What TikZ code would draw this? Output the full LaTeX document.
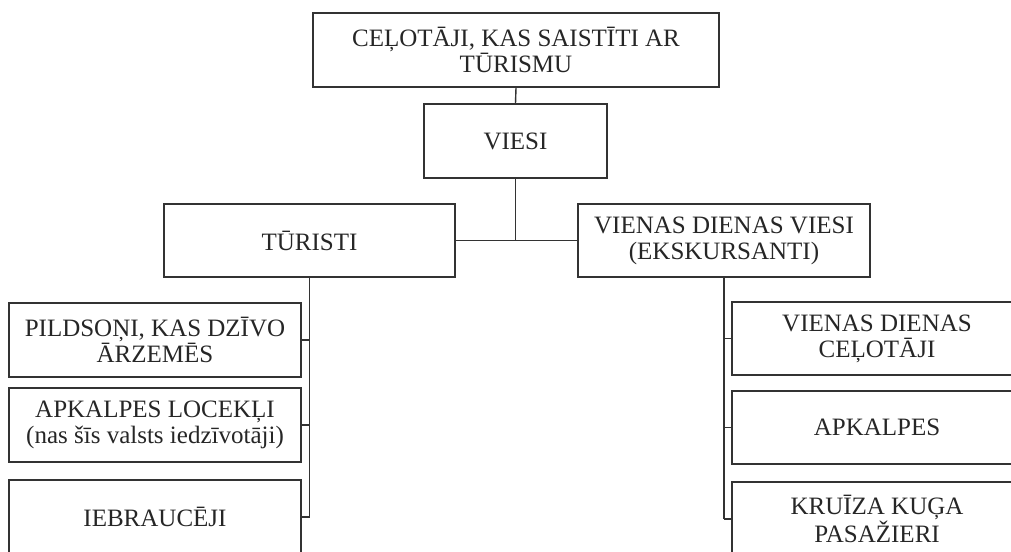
\documentclass[tikz,border=0pt]{standalone}
\usepackage{fontspec}
\setmainfont{Liberation Serif}
\begin{document}
\begin{tikzpicture}[x=1pt,y=-1pt,
  box/.style={draw=black!80, line width=1.5pt, align=center, inner sep=0pt,
    font=\fontsize{25}{26}\selectfont, text=black!85},
  conn/.style={draw=black!80, line width=1.4pt}]
\useasboundingbox (0,0) rectangle (1011,551);
\clip (0,0) rectangle (1011,551);
\node[box, minimum width=406pt, minimum height=74pt] (top) at (516,50) {CEĻOTĀJI, KAS SAISTĪTI AR\\TŪRISMU};
\node[box, minimum width=183pt, minimum height=74pt] (viesi) at (515.5,141) {VIESI};
\node[box, minimum width=291pt, minimum height=73pt] (tur) at (309.5,240.5) {TŪRISTI};
\node[box, minimum width=292pt, minimum height=73pt] (vien) at (724,240.5) {VIENAS DIENAS VIESI\\(EKSKURSANTI)};
\node[box, minimum width=292pt, minimum height=74pt] (l1) at (155,340) {PILDSOŅI, KAS DZĪVO\\ĀRZEMĒS};
\node[box, minimum width=292pt, minimum height=74pt] (l2) at (155,425) {APKALPES LOCEKĻI\\(nas šīs valsts iedzīvotāji)};
\node[box, minimum width=292pt, minimum height=74pt] (l3) at (155,517) {IEBRAUCĒJI};
\node[box, minimum width=290pt, minimum height=73pt] (r1) at (877,338.5) {VIENAS DIENAS\\CEĻOTĀJI};
\node[box, minimum width=290pt, minimum height=73pt] (r2) at (877,427.5) {APKALPES};
\node[box, minimum width=290pt, minimum height=74pt] (r3) at (877,519) {KRUĪZA KUĢA\\PASAŽIERI};
\draw[conn] (top.south) -- (viesi.north);
\draw[conn] (viesi.south) -- (viesi.south |- tur.east);
\draw[conn] (tur.east) -- (vien.west);
\draw[conn] (tur.south) -- (tur.south |- l3.east);
\draw[conn] (l1.east) -- (tur.south |- l1.east);
\draw[conn] (l2.east) -- (tur.south |- l2.east);
\draw[conn] (l3.east) -- (tur.south |- l3.east);
\draw[conn] (vien.south) -- (vien.south |- r3.west);
\draw[conn] (r1.west) -- (vien.south |- r1.west);
\draw[conn] (r2.west) -- (vien.south |- r2.west);
\draw[conn] (r3.west) -- (vien.south |- r3.west);
\end{tikzpicture}
\end{document}
